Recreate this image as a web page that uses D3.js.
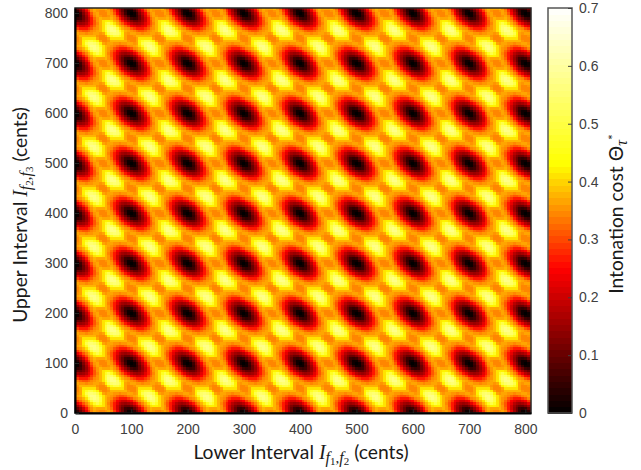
<!DOCTYPE html>
<html>
<head>
<meta charset="utf-8">
<script src="https://cdn.jsdelivr.net/npm/d3@7"></script>
<style>
  html, body { margin: 0; padding: 0; background: #fff; }
  svg { display: block; }
  .tick text { font-family: "Liberation Sans", Arial, sans-serif; font-size: 14px; fill: #404040; }
  .lab { font-family: Lato, sans-serif; font-size: 19.3px; fill: #1a1a1a; }
  .m { font-family: "Liberation Serif", serif; font-style: italic; }
</style>
</head>
<body>
<svg id="chart" width="641" height="470"></svg>
<script>
// cost over one 100 x 100 cent period, thousandths, rows = upper interval, 5 cent steps
const costTile = [
  [0,20,55,125,180,245,310,356,362,348,340,348,362,356,310,245,180,125,55,20],
  [20,45,100,160,220,285,341,365,360,349,349,360,365,341,285,220,160,100,45,20],
  [55,100,145,205,265,318,354,372,370,366,370,372,354,318,265,205,145,100,55,45],
  [125,160,205,265,314,350,380,410,425,425,410,380,350,314,265,205,160,125,100,100],
  [180,220,265,314,346,372,415,470,505,470,415,372,346,314,265,220,180,160,145,160],
  [245,285,318,350,372,415,500,540,540,500,415,372,350,318,285,245,220,205,205,220],
  [310,341,354,380,415,500,555,575,555,500,415,380,354,341,310,285,265,265,265,285],
  [356,365,372,410,470,540,575,575,540,470,410,372,365,356,341,318,314,314,318,341],
  [362,360,370,425,505,540,555,540,505,425,370,360,362,365,354,350,346,350,354,365],
  [348,349,366,425,470,500,500,470,425,366,349,348,360,372,380,372,372,380,372,360],
  [340,349,370,410,415,415,415,410,370,349,340,349,370,410,415,415,415,410,370,349],
  [348,360,372,380,372,372,380,372,360,348,349,366,425,470,500,500,470,425,366,349],
  [362,365,354,350,346,350,354,365,362,360,370,425,505,540,555,540,505,425,370,360],
  [356,341,318,314,314,318,341,356,365,372,410,470,540,575,575,540,470,410,372,365],
  [310,285,265,265,265,285,310,341,354,380,415,500,555,575,555,500,415,380,354,341],
  [245,220,205,205,220,245,285,318,350,372,415,500,540,540,500,415,372,350,318,285],
  [180,160,145,160,180,220,265,314,346,372,415,470,505,470,415,372,346,314,265,220],
  [125,100,100,125,160,205,265,314,350,380,410,425,425,410,380,350,314,265,205,160],
  [55,45,55,100,145,205,265,318,354,372,370,366,370,372,354,318,265,205,145,100],
  [20,20,45,100,160,220,285,341,365,360,349,349,360,365,341,285,220,160,100,45]
];
const intervalTicks = [0, 100, 200, 300, 400, 500, 600, 700, 800];
const costTicks = [0, 0.1, 0.2, 0.3, 0.4, 0.5, 0.6, 0.7];
const colorStops = [0, 0.25, 0.43, 0.7];
const colorNames = ["#000000", "#ff0000", "#ffff00", "#ffffff"];
const stepCents = 5, maxCents = 810, maxCost = 0.7, levels = 64;

let chart = d3.select("#chart");
let left = 75, right = 531, top_ = 8, bottom = 413;
let barLeft = 548, barRight = 572;

let xScale = d3.scaleLinear().domain([0, maxCents]).range([left, right]);
let yScale = d3.scaleLinear().domain([0, maxCents]).range([bottom, top_]);
let costScale = d3.scaleLinear().domain([0, maxCost]).range([bottom, top_]);
let ramp = d3.scaleLinear().domain(colorStops).range(colorNames).clamp(true);

// matlab style colormap, fixed number of bands
function bandColor(v) {
  let k = Math.min(levels - 1, Math.floor(v / maxCost * levels));
  return ramp((k + 0.5) / levels * maxCost);
}

chart.append("clipPath").attr("id", "plot")
  .append("rect").attr("x", left).attr("y", top_)
  .attr("width", right - left).attr("height", bottom - top_);

// the reference image is a little soft from resampling
chart.append("filter").attr("id", "soft")
  .attr("x", "0%").attr("y", "0%").attr("width", "100%").attr("height", "100%")
  .append("feGaussianBlur").attr("stdDeviation", 0.7);

let cells = [];
let count = maxCents / stepCents + 1;
d3.range(count).forEach(j => d3.range(count).forEach(i => {
  cells.push({ i: i, j: j, v: costTile[j % 20][i % 20] / 1000 });
}));

chart.append("g").attr("clip-path", "url(#plot)")
  .append("g").attr("filter", "url(#soft)")
  .selectAll("rect").data(cells).enter().append("rect")
    .attr("x", d => xScale(d.i * stepCents - stepCents / 2))
    .attr("y", d => yScale(d.j * stepCents + stepCents / 2))
    .attr("width", xScale(stepCents) - xScale(0) + 0.5)
    .attr("height", yScale(0) - yScale(stepCents) + 0.5)
    .attr("fill", d => bandColor(d.v))
    .attr("shape-rendering", "crispEdges");

// plot frame
chart.append("rect").attr("x", left).attr("y", top_)
  .attr("width", right - left).attr("height", bottom - top_)
  .attr("fill", "none").attr("stroke", "#262626").attr("stroke-width", 1.5);

let xAxis = chart.append("g").attr("transform", "translate(0," + bottom + ")")
  .call(d3.axisBottom(xScale).tickValues(intervalTicks).tickFormat(d3.format("d")).tickSize(-4).tickSizeOuter(0).tickPadding(11));
let yAxis = chart.append("g").attr("transform", "translate(" + left + ",0)")
  .call(d3.axisLeft(yScale).tickValues(intervalTicks).tickFormat(d3.format("d")).tickSize(-4).tickSizeOuter(0).tickPadding(7));
xAxis.selectAll("path").attr("stroke", "#000").attr("stroke-width", 2);
yAxis.selectAll("path").attr("stroke", "#000").attr("stroke-width", 2);
chart.selectAll("g .tick line").attr("stroke", "#262626");

// colorbar
chart.append("g").selectAll("rect").data(d3.range(levels)).enter().append("rect")
  .attr("x", barLeft).attr("width", barRight - barLeft)
  .attr("y", k => costScale((k + 1) / levels * maxCost))
  .attr("height", k => costScale(k / levels * maxCost) - costScale((k + 1) / levels * maxCost) + 0.5)
  .attr("fill", k => ramp((k + 0.5) / levels * maxCost))
  .attr("shape-rendering", "crispEdges");
chart.append("rect").attr("x", barLeft).attr("y", top_)
  .attr("width", barRight - barLeft).attr("height", bottom - top_)
  .attr("fill", "none").attr("stroke", "#555").attr("stroke-width", 1.5);
let barAxis = chart.append("g").attr("transform", "translate(" + barRight + ",0)")
  .call(d3.axisRight(costScale).tickValues(costTicks).tickFormat(d => d === 0 ? "0" : d3.format(".1f")(d)).tickSize(-4).tickSizeOuter(0).tickPadding(7));
barAxis.selectAll("path").attr("stroke", "none");
barAxis.selectAll(".tick line").attr("stroke", "#404040");

// axis titles, subscripts as tspans
function intervalLabel(sel, before, a, b, after) {
  sel.append("tspan").text(before);
  sel.append("tspan").attr("class", "m").attr("font-size", 20).text("I");
  sel.append("tspan").attr("class", "m").attr("font-size", 16).attr("dy", 4).text("f");
  sel.append("tspan").attr("class", "m").attr("font-size", 11).attr("dy", 2).style("font-style", "normal").text(a);
  sel.append("tspan").attr("class", "m").attr("font-size", 15).attr("dy", -2).style("font-style", "normal").text(",");
  sel.append("tspan").attr("class", "m").attr("font-size", 16).text("f");
  sel.append("tspan").attr("class", "m").attr("font-size", 11).attr("dy", 2).style("font-style", "normal").text(b);
  sel.append("tspan").attr("dy", -6).text(after);
}

chart.append("text").attr("class", "lab")
  .attr("x", 301).attr("y", 459).style("text-anchor", "middle")
  .call(intervalLabel, "Lower Interval ", "1", "2", " (cents)");

chart.append("text").attr("class", "lab")
  .attr("transform", "translate(27,215) rotate(-90)").style("text-anchor", "middle")
  .call(intervalLabel, "Upper Interval ", "2", "3", " (cents)");

let costLabel = chart.append("text").attr("class", "lab")
  .attr("transform", "translate(623,214) rotate(-90)").style("text-anchor", "middle");
costLabel.append("tspan").text("Intonation cost Θ");
costLabel.append("tspan").attr("class", "m").attr("font-size", 16).attr("dy", 4).text("τ");
costLabel.append("tspan").attr("font-size", 14).attr("dy", -9).text("*");
</script>
</body>
</html>
